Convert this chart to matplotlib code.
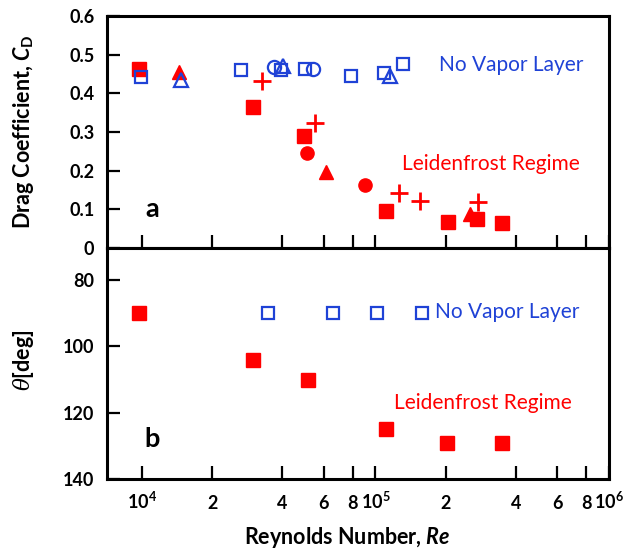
import matplotlib
matplotlib.use('Agg')
import matplotlib.pyplot as plt
from matplotlib.ticker import FixedLocator, NullLocator

plt.rcParams['font.family'] = ['Lato', 'DejaVu Sans']
plt.rcParams['mathtext.fontset'] = 'custom'
plt.rcParams['mathtext.rm'] = 'Lato:bold'
plt.rcParams['mathtext.it'] = 'Lato:italic:bold'
plt.rcParams['mathtext.bf'] = 'Lato:bold'
plt.rcParams['mathtext.sf'] = 'DejaVu Serif:italic'
plt.rcParams['mathtext.default'] = 'regular'

RED = '#ff0000'
BLUE = '#1f42d6'

# ---- Panel a: drag coefficient ----
lf_sq_re = [9700, 30000, 49400, 110700, 203700, 271000, 350000]
lf_sq_cd = [0.463, 0.365, 0.289, 0.096, 0.066, 0.074, 0.065]
lf_tri_re = [14500, 61600, 254000]
lf_tri_cd = [0.456, 0.197, 0.088]
lf_cir_re = [51100, 90600]
lf_cir_cd = [0.245, 0.163]
lf_plus_re = [32700, 55200, 126000, 156000, 276000]
lf_plus_cd = [0.432, 0.322, 0.143, 0.122, 0.120]

nv_sq_re = [9900, 26600, 39600, 49800, 78400, 108900, 131500]
nv_sq_cd = [0.443, 0.460, 0.460, 0.463, 0.444, 0.453, 0.477]
nv_tri_re = [14700, 40200, 115000]
nv_tri_cd = [0.434, 0.470, 0.444]
nv_cir_re = [36700, 54100]
nv_cir_cd = [0.469, 0.463]

# ---- Panel b: angle ----
lf_theta_re = [9700, 30000, 51300, 110700, 203000, 350000]
lf_theta = [90, 104, 110, 125, 129, 129]
nv_theta_re = [34800, 65600, 102000, 158400]
nv_theta = [90, 90, 90, 90]

xticks = [1e4, 2e4, 4e4, 6e4, 8e4, 1e5, 2e5, 4e5, 6e5, 8e5, 1e6]
xticklabels = [r'$\mathbf{10^4}$', '2', '4', '6', '8', r'$\mathbf{10^5}$',
               '2', '4', '6', '8', r'$\mathbf{10^6}$']
cd_ticks = [0, 0.1, 0.2, 0.3, 0.4, 0.5, 0.6]
cd_labels = ['0', '0.1', '0.2', '0.3', '0.4', '0.5', '0.6']
th_ticks = [80, 100, 120, 140]

fig = plt.figure(figsize=(6.3, 5.5), dpi=100)
W, H = 630, 550
ax1 = fig.add_axes([107 / W, 1 - 248 / H, 502 / W, 232 / H])
ax2 = fig.add_axes([107 / W, 1 - 479 / H, 502 / W, 231 / H], sharex=ax1)

filled = dict(ls='none', color=RED, mec=RED)
opened = dict(ls='none', mfc='none', mec=BLUE, mew=1.6)

ax1.plot(lf_sq_re, lf_sq_cd, marker='s', ms=10, **filled)
ax1.plot(lf_tri_re, lf_tri_cd, marker='^', ms=10.5, **filled)
ax1.plot(lf_cir_re, lf_cir_cd, marker='o', ms=9.5, **filled)
ax1.plot(lf_plus_re, lf_plus_cd, marker='+', ms=12.5, mew=2, ls='none', color=RED)
ax1.plot(nv_sq_re, nv_sq_cd, marker='s', ms=9, **opened)
ax1.plot(nv_tri_re, nv_tri_cd, marker='^', ms=9.5, **opened)
ax1.plot(nv_cir_re, nv_cir_cd, marker='o', ms=9.5, **opened)

ax2.plot(lf_theta_re, lf_theta, marker='s', ms=10, **filled)
ax2.plot(nv_theta_re, nv_theta, marker='s', ms=9, **opened)

ax1.set_xscale('log')
ax1.set_xlim(7100, 1e6)
ax1.set_ylim(0, 0.6)
ax2.set_ylim(140, 70.3)

for ax in (ax1, ax2):
    ax.xaxis.set_major_locator(FixedLocator(xticks))
    ax.xaxis.set_minor_locator(NullLocator())
    ax.tick_params(direction='in', length=9.5, width=1.6, top=False, right=False,
                   labelsize=13)
    ax.tick_params(axis='y', pad=9)
    for s in ax.spines.values():
        s.set_linewidth(2.2)

ax1.tick_params(labelbottom=False)
ax2.tick_params(axis='x', pad=21.5)
ax2.set_xticklabels(xticklabels)
ax1.set_yticks(cd_ticks)
ax1.set_yticklabels(cd_labels)
ax2.set_yticks(th_ticks)
for lab in ax1.get_yticklabels() + ax2.get_yticklabels():
    lab.set_fontweight('bold')
for lab in ax2.get_xticklabels():
    lab.set_fontweight('bold')
    lab.set_va('baseline')

ax1.set_ylabel(r'Drag Coefficient, $\mathit{C}_{\mathbf{D}}$', fontsize=15.5, fontweight='bold')
ax1.yaxis.label.set_va('baseline')
ax1.yaxis.set_label_coords(-0.153, 0.5)
ax2.set_ylabel(r'$\mathsf{\theta}$[deg]', fontsize=15.5, fontweight='bold')
ax2.yaxis.label.set_va('baseline')
ax2.yaxis.set_label_coords(-0.153, 0.515)
ax2.set_xlabel(r'Reynolds Number, $\mathit{Re}$', fontsize=15.5, fontweight='bold')
ax2.xaxis.label.set_va('baseline')
ax2.xaxis.set_label_coords(0.479, -0.281)

ax1.text(0.661, 0.763, 'No Vapor Layer', color=BLUE, fontsize=15,
         transform=ax1.transAxes, ha='left', va='baseline')
ax1.text(0.5876, 0.338, 'Leidenfrost Regime', color=RED, fontsize=15,
         transform=ax1.transAxes, ha='left', va='baseline')
ax1.text(0.0906, 0.135, 'a', fontsize=19.5, fontweight='bold',
         transform=ax1.transAxes, ha='center', va='baseline')
ax2.text(0.654, 0.697, 'No Vapor Layer', color=BLUE, fontsize=15,
         transform=ax2.transAxes, ha='left', va='baseline')
ax2.text(0.572, 0.302, 'Leidenfrost Regime', color=RED, fontsize=15,
         transform=ax2.transAxes, ha='left', va='baseline')
ax2.text(0.0906, 0.137, 'b', fontsize=19.5, fontweight='bold',
         transform=ax2.transAxes, ha='center', va='baseline')

fig.savefig('out.png', dpi=100)
